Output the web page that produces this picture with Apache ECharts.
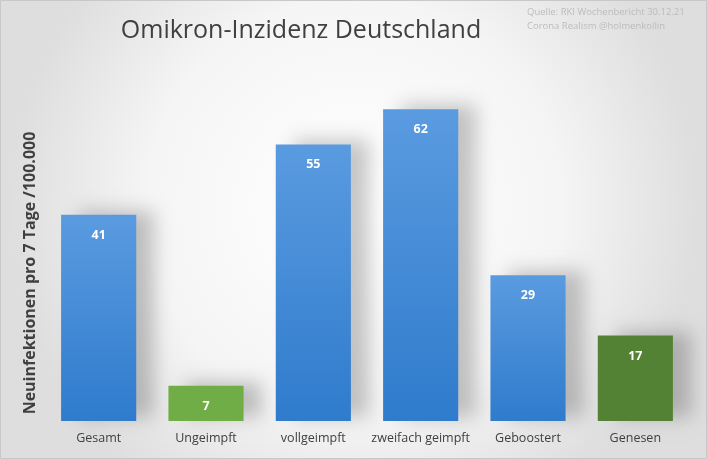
<!DOCTYPE html>
<html><head><meta charset="utf-8">
<script src="https://cdn.jsdelivr.net/npm/echarts@6/dist/echarts.min.js"></script>
<style>html,body{margin:0;padding:0;background:#fff}#c{width:707px;height:459px}</style>
</head><body><div id="c"></div>
<script>
const categories = ['Gesamt','Ungeimpft','vollgeimpft','zweifach geimpft','Geboostert','Genesen'];
const values = [41, 7, 55, 62, 29, 17];
const barColors = ['blue','green','blue','blue','blue','darkgreen'];
const titleText = 'Omikron-Inzidenz Deutschland';
const sourceLines = ['Quelle: RKI Wochenbericht 30.12.21','Corona Realism @holmenkollin'];
const yAxisName = 'Neuinfektionen pro 7 Tage /100.000';

const palette = {
  blue: new echarts.graphic.LinearGradient(0,0,0,1,[{offset:0,color:'#5a9be0'},{offset:1,color:'#2f7bcc'}]),
  green: '#70ad47',
  darkgreen: '#548235'
};
const chart = echarts.init(document.getElementById('c'));
chart.setOption({
  animation:false,
  backgroundColor: new echarts.graphic.RadialGradient(0.5,0.45,0.75,[{offset:0,color:'#ffffff'},{offset:0.6,color:'#f5f5f5'},{offset:1,color:'#dedede'}]),
  title:{text:titleText,left:296,top:13,textAlign:'center',textStyle:{fontFamily:'Open Sans',fontWeight:'normal',fontSize:25,color:'#404040'}},
  graphic:[
    {type:'text',left:527,top:5,style:{text:sourceLines.join('\n'),fontFamily:'Open Sans',fontSize:9.5,lineHeight:14,fill:'#bcbcbc'}},
    {type:'text',x:30,y:273,rotation:Math.PI/2,style:{text:yAxisName,fontFamily:'Open Sans',fontWeight:'bold',fontSize:16,fill:'#404040',align:'center',verticalAlign:'middle'}},
    {type:'rect',shape:{x:0.5,y:0.5,width:706,height:458},style:{fill:'none',stroke:'#c8c8c8',lineWidth:1}}
  ],
  grid:{left:45,right:18,top:69,bottom:38},
  xAxis:{type:'category',data:categories,axisLine:{show:false},axisTick:{show:false},
    axisLabel:{interval:0,color:'#404040',fontFamily:'Open Sans',fontSize:12.5,margin:11}},
  yAxis:{type:'value',min:0,max:70,axisLabel:{show:false},axisLine:{show:false},axisTick:{show:false},splitLine:{show:false}},
  series:[{type:'bar',barWidth:'70%',
    data:values.map((v,i)=>({value:v,itemStyle:{color:palette[barColors[i]]}})),
    itemStyle:{shadowColor:'rgba(0,0,0,0.22)',shadowBlur:18,shadowOffsetX:18,shadowOffsetY:-4},
    label:{show:true,position:'insideTop',distance:14,color:'#fff',fontWeight:'bold',fontFamily:'Open Sans',fontSize:12.5}
  }]
});
</script></body></html>
